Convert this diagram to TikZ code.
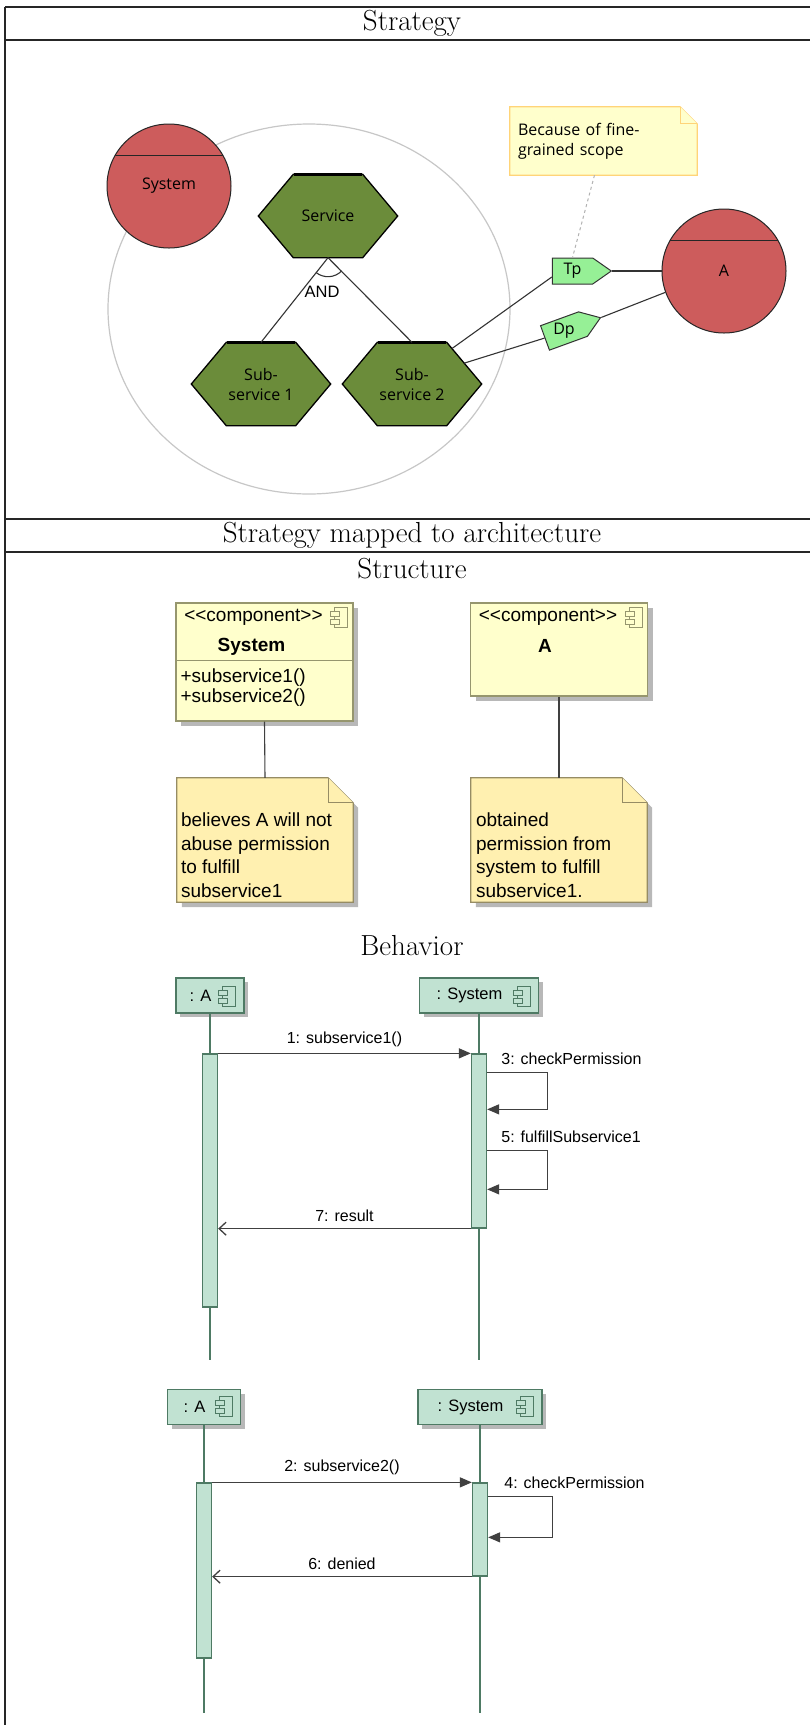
\documentclass[tikz,border=0pt]{standalone}
\usepackage{fontspec}
\newfontfamily\goalfont{Open Sans}
\newfontfamily\umlfont{Liberation Sans}
\usetikzlibrary{arrows.meta,calc,shapes.symbols,shadows,backgrounds}

\definecolor{actorred}{RGB}{205,92,92}
\definecolor{goalgreen}{RGB}{107,140,58}
\definecolor{permgreen}{RGB}{150,240,150}
\definecolor{memofill}{RGB}{255,255,204}
\definecolor{memoline}{RGB}{255,212,120}
\definecolor{compfill}{RGB}{255,255,204}
\definecolor{compline}{RGB}{150,150,110}
\definecolor{notefill}{RGB}{255,240,176}
\definecolor{noteline}{RGB}{150,140,100}
\definecolor{seqfill}{RGB}{193,226,210}
\definecolor{seqline}{RGB}{78,122,100}
\definecolor{msgline}{RGB}{64,64,64}

% component symbol, #1 = its top right corner
\newcommand{\compicon}[2]{%
	\draw[#2, shift={#1}] (-13,0) rectangle (0,20);
	\draw[#2, shift={#1}] (-17,4) rectangle (-8,9) (-17,12) rectangle (-8,17);}

\tikzset{
	heading/.style={font=\fontsize{29}{33}\selectfont, inner sep=0pt},
	tablerule/.style={line width=1.3pt, black!85},
	boundary/.style={draw=black!22, line width=1.2pt},
	actor/.style={circle, draw=black!85, line width=1pt, fill=actorred, minimum size=124pt, inner sep=0pt, font=\goalfont\fontsize{16}{20}\selectfont},
	goal/.style={minimum width=139pt, minimum height=83pt, inner sep=0pt, align=center, font=\goalfont\fontsize{16}{20}\selectfont},
	goalshape/.style={draw=black, fill=goalgreen, line width=1.3pt},
	perm/.style={signal, signal to=east, signal pointer angle=70, draw=black!80, line width=1pt, fill=permgreen, minimum width=59pt, minimum height=26pt, inner sep=0pt, font=\goalfont\fontsize{16}{20}\selectfont},
	permtext/.style={inner sep=0pt, font=\goalfont\fontsize{16}{20}\selectfont},
	link/.style={draw=black!80, line width=1.1pt},
	memo/.style={minimum width=187pt, minimum height=68pt, text width=171pt, inner sep=8pt, align=left, font=\goalfont\fontsize{16}{20}\selectfont},
	memoshape/.style={draw=memoline, fill=memofill, line width=1.2pt},
	memolink/.style={draw=black!30, line width=1pt, dashed},
	andtext/.style={inner sep=0pt, font=\umlfont\fontsize{16.5}{20}\selectfont},
	shadowed/.style={drop shadow={shadow xshift=5pt, shadow yshift=-5pt, fill=black!28, opacity=1}},
	comp/.style={draw=compline, fill=compfill, line width=1.2pt, minimum width=177pt, inner sep=0pt, shadowed},
	compdivider/.style={draw=compline, line width=1.2pt},
	umltext/.style={inner sep=0pt, font=\umlfont\fontsize{19}{20}\selectfont},
	umlnote/.style={minimum width=176pt, minimum height=124pt, inner sep=0pt},
	noteshape/.style={draw=noteline, fill=notefill, line width=1.2pt, shadowed},
	notefold/.style={draw=noteline, fill=notefill, line width=1.2pt},
	notetext/.style={anchor=north west, align=left, inner sep=0pt, font=\umlfont\fontsize{19}{23.5}\selectfont},
	umllink/.style={draw=black!75, line width=1.1pt},
	lifehead/.style={draw=seqline, fill=seqfill, line width=1.3pt, minimum height=35pt, inner sep=0pt, font=\umlfont\fontsize{16.5}{20}\selectfont, drop shadow={shadow xshift=4pt, shadow yshift=-4pt, fill=black!28, opacity=1}},
	lifeline/.style={draw=seqline, line width=1.5pt},
	activation/.style={draw=seqline, fill=seqfill, line width=1.3pt, minimum width=15pt, inner sep=0pt},
	call/.style={draw=msgline, line width=1.3pt, -{Triangle[length=12pt,width=10pt]}},
	reply/.style={draw=msgline, line width=1.3pt, -{Straight Barb[length=7pt,width=13pt]}},
	msg/.style={inner sep=0pt, font=\umlfont\fontsize{16}{18}\selectfont},
}

\begin{document}
\begin{tikzpicture}[x=1pt, y=-1pt]
	\useasboundingbox (0,0) rectangle (810,1725);
	\begin{scope}[on background layer]
		\fill[white] (0,0) rectangle (810,1725);
	\end{scope}
	% Table
	\draw[tablerule] (5,7) -- (815,7);
	\draw[tablerule] (5,40) -- (815,40);
	\draw[tablerule] (5,519) -- (815,519);
	\draw[tablerule] (5,552) -- (815,552);
	\draw[tablerule] (5,7) -- (5,1726);
	\node[heading] (hstrat) at (412,23) {Strategy};
	\node[heading] (hmap) at (412,535.5) {Strategy mapped to architecture};
	\node[heading] (hstruct) at (412,569) {Structure};
	\node[heading] (hbehav) at (412,946) {Behavior};

	% Strategy
	\node[actor] (sys) at (169,186) {System};
	\node[actor] (A) at (724,271) {A};
	\foreach \n in {sys,A}
		\draw[black!85, line width=1pt] ($(\n.center)+(-53.7,-31)$) -- ($(\n.center)+(53.7,-31)$);
	\node[goal] (svc) at (328,216) {Service};
	\node[goal] (sub1) at (261,384) {Sub-\\service 1};
	\node[goal] (sub2) at (412,384) {Sub-\\service 2};
	\node[perm] (tp) at (572.5,271) {Tp};
	\node[perm, rotate=20] (dp) at (564,331) {};
	\node[permtext] (dptext) at (dp.center) {Dp};
	\node[memo] (because) at (603.5,141) {Because of fine-\\grained scope};
	\begin{scope}[on background layer]
		\draw[boundary] (309,309) ellipse [x radius=201, y radius=185];
		\foreach \g in {svc,sub1,sub2} {
			\draw[goalshape] (\g.west) -- ([xshift=35pt]\g.north west) -- ([xshift=-35pt]\g.north east) -- (\g.east) -- ([xshift=-35pt]\g.south east) -- ([xshift=35pt]\g.south west) -- cycle;
			\draw[line width=2.6pt] ([xshift=36pt]\g.north west) -- ([xshift=-36pt]\g.north east);
		}
		\draw[memoshape] (because.north west) -- ([xshift=-17pt]because.north east) -- ([yshift=-17pt]because.north east) -- (because.south east) -- (because.south west) -- cycle;
		\draw[memoshape] ([xshift=-17pt]because.north east) |- ([yshift=-17pt]because.north east);
	\end{scope}
	\draw[link] (svc.south) -- (sub1.north);
	\draw[link] (svc.south) -- (sub2.north);
	\draw[link] (svc.south) ++(44:19) arc[start angle=44, end angle=129, radius=19];
	\node[andtext] (and) at (322,292) {AND};
	\coordinate (sub2tr) at ([xshift=-35pt]sub2.north east);
	\draw[link] ($(sub2tr)!0.15!(sub2.east)$) -- ([yshift=-6pt]tp.west);
	\draw[link] ($(sub2tr)!0.5!(sub2.east)$) -- (dp.west);
	\draw[link] (tp.east) -- (A.west);
	\draw[link] (dp.east) -- (A.200);
	\draw[memolink] ([xshift=-9pt]because.south) -- (tp.north);

	% Structure
	\node[comp, minimum height=118pt] (sysc) at (264.5,662) {};
	\node[comp, minimum height=93pt] (ac) at (559,649.5) {};
	\draw[compdivider] ([yshift=-58pt]sysc.north west) -- ([yshift=-58pt]sysc.north east);
	\node[umltext] (sysster) at ([shift={(-11,15)}]sysc.north) {<{}<component>{}>};
	\node[umltext] (sysname) at ([shift={(-13,44)}]sysc.north) {\bfseries System};
	\node[umltext, anchor=west] (sysop1) at ([shift={(5,75)}]sysc.north west) {+subservice1()};
	\node[umltext, anchor=west] (sysop2) at ([shift={(5,95)}]sysc.north west) {+subservice2()};
	\node[umltext] (aster) at ([shift={(-11,15)}]ac.north) {<{}<component>{}>};
	\node[umltext] (aname) at ([shift={(-14,44)}]ac.north) {\bfseries A};
	\compicon{([shift={(-6,5)}]sysc.north east)}{draw=compline, fill=compfill, line width=1pt}
	\compicon{([shift={(-6,5)}]ac.north east)}{draw=compline, fill=compfill, line width=1pt}
	\node[umlnote] (sysnote) at (265,840) {};
	\node[umlnote] (anote) at (559,840) {};
	\begin{scope}[on background layer]
		\foreach \n in {sysnote,anote} {
			\draw[noteshape] (\n.north west) -- ([xshift=-25pt]\n.north east) -- ([yshift=-25pt]\n.north east) -- (\n.south east) -- (\n.south west) -- cycle;
			\draw[notefold] ([xshift=-25pt]\n.north east) |- ([yshift=-25pt]\n.north east);
		}
	\end{scope}
	\node[notetext] (sysnotetext) at ([shift={(4,35)}]sysnote.north west) {believes A will not\\abuse permission\\to fulfill\\subservice1};
	\node[notetext] (anotetext) at ([shift={(5,35)}]anote.north west) {obtained\\permission from\\system to fulfill\\subservice1.};
	\draw[umllink] (sysc.south) -- (sysnote.north);
	\draw[umllink] (ac.south) -- (anote.north);

	% Behavior: granted request
	\node[lifehead, minimum width=68pt] (a1) at (210,995.5) {: A\hspace*{19pt}};
	\node[lifehead, minimum width=119pt] (s1) at (479,995.5) {: System\hspace*{19pt}};
	\compicon{([shift={(-9,9)}]a1.north east)}{draw=seqline, fill=seqfill, line width=1pt}
	\compicon{([shift={(-9,9)}]s1.north east)}{draw=seqline, fill=seqfill, line width=1pt}
	\coordinate (a1end) at (a1.south |- 0,1360);
	\coordinate (s1end) at (s1.south |- 0,1360);
	\draw[lifeline] (a1.south) -- (a1end);
	\draw[lifeline] (s1.south) -- (s1end);
	\node[activation, minimum height=253pt] (a1act) at (a1.center |- 0,1180.5) {};
	\node[activation, minimum height=174pt] (s1act) at (s1.center |- 0,1141) {};
	\draw[call] (a1act.north east) -- (s1act.north west) node[msg, midway, above=6pt] (m1) {1: subservice1()};
	\draw[call] ([yshift=-19pt]s1act.north east) -- ++(60,0) |- ([yshift=-56pt]s1act.north east);
	\node[msg, anchor=west] (m3) at ([shift={(14,5)}]s1act.north east) {3: checkPermission};
	\draw[call] ([yshift=-97pt]s1act.north east) -- ++(60,0) |- ([yshift=-136pt]s1act.north east);
	\node[msg, anchor=west] (m5) at ([shift={(14,83)}]s1act.north east) {5: fulfillSubservice1};
	\draw[reply] (s1act.south west) -- (a1act.east |- s1act.south) node[msg, midway, above=6pt] (m7) {7: result};

	% Behavior: denied request
	\node[lifehead, minimum width=73pt] (a2) at (204,1407) {: A\hspace*{19pt}};
	\node[lifehead, minimum width=124pt] (s2) at (480,1407) {: System\hspace*{19pt}};
	\compicon{([shift={(-9,8)}]a2.north east)}{draw=seqline, fill=seqfill, line width=1pt}
	\compicon{([shift={(-9,8)}]s2.north east)}{draw=seqline, fill=seqfill, line width=1pt}
	\coordinate (a2end) at (a2.south |- 0,1713);
	\coordinate (s2end) at (s2.south |- 0,1713);
	\draw[lifeline] (a2.south) -- (a2end);
	\draw[lifeline] (s2.south) -- (s2end);
	\node[activation, minimum height=175pt] (a2act) at (a2.center |- 0,1570.5) {};
	\node[activation, minimum height=93pt] (s2act) at (s2.center |- 0,1529.5) {};
	\draw[call] (a2act.north east) -- (s2act.north west) node[msg, midway, above=7pt] (m2) {2: subservice2()};
	\draw[call] ([yshift=-14pt]s2act.north east) -- ++(64,0) |- ([yshift=-55pt]s2act.north east);
	\node[msg, anchor=west] (m4) at ([shift={(16,0)}]s2act.north east) {4: checkPermission};
	\draw[reply] (s2act.south west) -- (a2act.east |- s2act.south) node[msg, midway, above=6pt] (m6) {6: denied};
\end{tikzpicture}
\end{document}
